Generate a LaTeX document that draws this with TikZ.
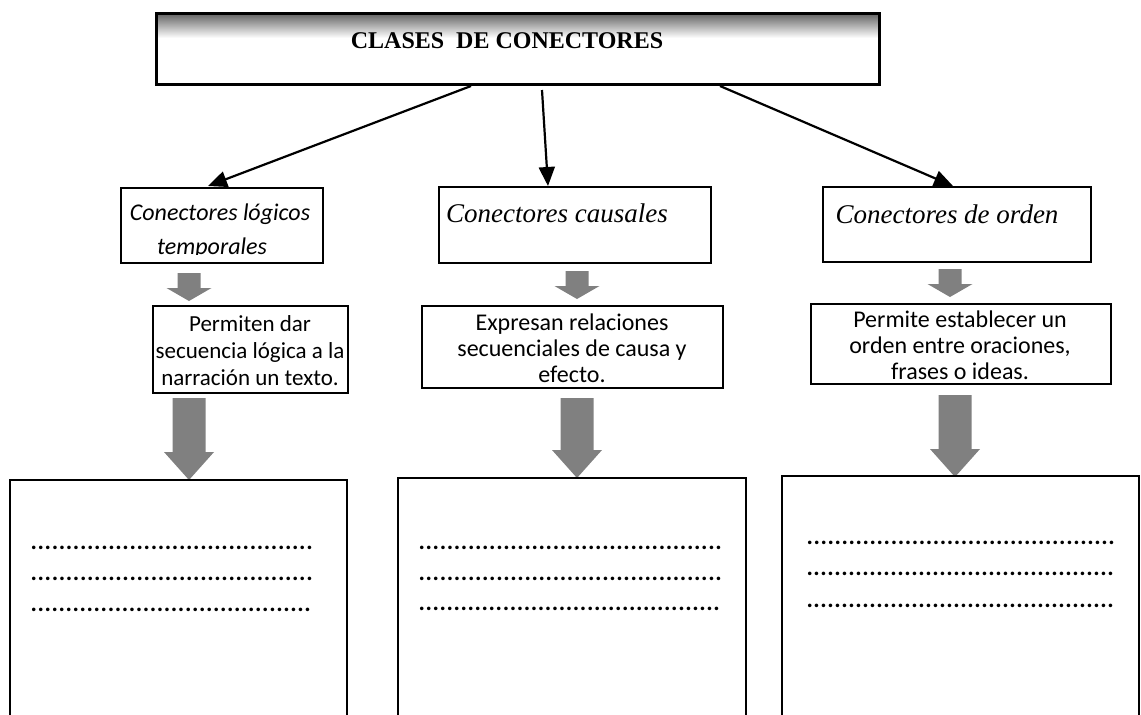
\documentclass[tikz,border=0pt]{standalone}
\usepackage{fontspec}
\setmainfont{Liberation Serif}
\newfontfamily\calib{Carlito}
\usetikzlibrary{arrows.meta}
\newcommand\garrow[6]{\fill[gfill] (#1-#5/2,#2) -- (#1+#5/2,#2) -- (#1+#5/2,#3) -- (#1+#6/2,#3) -- (#1,#4) -- (#1-#6/2,#3) -- (#1-#5/2,#3) -- cycle;}
\newcommand\dotrow[1]{\hbox to #1{\xleaders\hbox to 7pt{\hss.\hss}\hfill}}
\begin{document}
\begin{tikzpicture}[x=1pt,y=-1pt,
  box/.style={draw, line width=1.6pt, inner sep=0pt},
  conn/.style={line width=2.2pt, -{Triangle[length=19pt,width=16pt]}},
  gfill/.style={fill=black!50},
  cattxt/.style={font=\itshape\fontsize{27}{30}\selectfont, anchor=base},
  cattxtc/.style={font=\calib\itshape\fontsize{24}{30}\selectfont, anchor=base},
  desctxt/.style={font=\calib\fontsize{23}{27}\selectfont, align=center, anchor=north},
  desctxtb/.style={font=\calib\fontsize{24}{26}\selectfont, align=center, anchor=north},
  dots/.style={font=\calib\bfseries\fontsize{24}{24}\selectfont, anchor=base west, inner sep=0pt}]
\useasboundingbox (0,0) rectangle (1141,715);
\fill[white] (0,0) rectangle (1141,715);
% title
\shade[top color=black!65, bottom color=white] (155,12) rectangle (878,38);
\node[box, line width=2.5pt, anchor=north west, minimum width=723pt, minimum height=71pt] (title) at (155,12) {};
\node[font=\bfseries\fontsize{24}{30}\selectfont] (ttext) at (507,41) {CLASES\ \ DE CONECTORES};
% category boxes
\node[box, anchor=north west, minimum width=202pt, minimum height=75pt] (c1) at (120,187) {};
\node[box, anchor=north west, minimum width=272pt, minimum height=76pt] (c2) at (438,186) {};
\node[box, anchor=north west, minimum width=268pt, minimum height=75pt] (c3) at (822,186) {};
\begin{scope}
\clip (120,187) rectangle (322,254);
\node[cattxtc] (c1a) at (220,220) {Conectores lógicos};
\node[cattxtc] (c1b) at (212,254) {temporales};
\end{scope}
\node[cattxt] (c2a) at (557,222) {Conectores causales};
\node[cattxt] (c3a) at (947,223) {Conectores de orden};
% connectors from title
\coordinate (s1) at (471,86);
\coordinate (e1) at (208,186);
\coordinate (s2) at (542,90);
\coordinate (e2) at (548,186);
\coordinate (s3) at (720,86);
\coordinate (e3) at (953,186);
\draw[conn] (s1) -- (e1);
\draw[conn] (s2) -- (e2);
\draw[conn] (s3) -- (e3);
% small gray arrows
\garrow{189}{273}{288}{301}{23}{45}
\garrow{577}{271}{286}{299}{23}{45}
\garrow{950}{269}{284}{297}{23}{45}
% description boxes
\node[box, anchor=north west, minimum width=195pt, minimum height=87pt] (d1) at (152,305) {};
\node[box, anchor=north west, minimum width=301pt, minimum height=82pt] (d2) at (421,305) {};
\node[box, anchor=north west, minimum width=300pt, minimum height=80pt] (d3) at (810,303) {};
\node[desctxt] (d1t) at (250,312) {Permiten dar\\secuencia lógica a la\\narración un texto.};
\node[desctxtb] (d2t) at (572,310) {Expresan relaciones\\secuenciales de causa y\\efecto.};
\node[desctxtb] (d3t) at (960,307) {Permite establecer un\\orden entre oraciones,\\frases o ideas.};
% big gray arrows
\garrow{189}{398}{452}{480}{33}{50}
\garrow{577}{398}{450}{478}{33}{50}
\garrow{955}{395}{449}{477}{33}{50}
% bottom boxes (open at the bottom edge)
\draw[line width=1.6pt] (10,716) -- (10,480) -- (347,480) -- (347,716);
\draw[line width=1.6pt] (398,716) -- (398,478) -- (746,478) -- (746,716);
\draw[line width=1.6pt] (782,716) -- (782,476) -- (1139,476) -- (1139,716);
% dotted text rows
\node[dots] (l1) at (30,549) {\dotrow{283pt}};
\node[dots] (l2) at (30,580) {\dotrow{283pt}};
\node[dots] (l3) at (30,611) {\dotrow{281pt}};
\node[dots] (m1) at (418,549) {\dotrow{304pt}};
\node[dots] (m2) at (418,580) {\dotrow{304pt}};
\node[dots] (m3) at (418,610) {\dotrow{302pt}};
\node[dots] (r1) at (806,544) {\dotrow{309pt}};
\node[dots] (r2) at (806,575) {\dotrow{308pt}};
\node[dots] (r3) at (806,607) {\dotrow{308pt}};
\end{tikzpicture}
\end{document}
